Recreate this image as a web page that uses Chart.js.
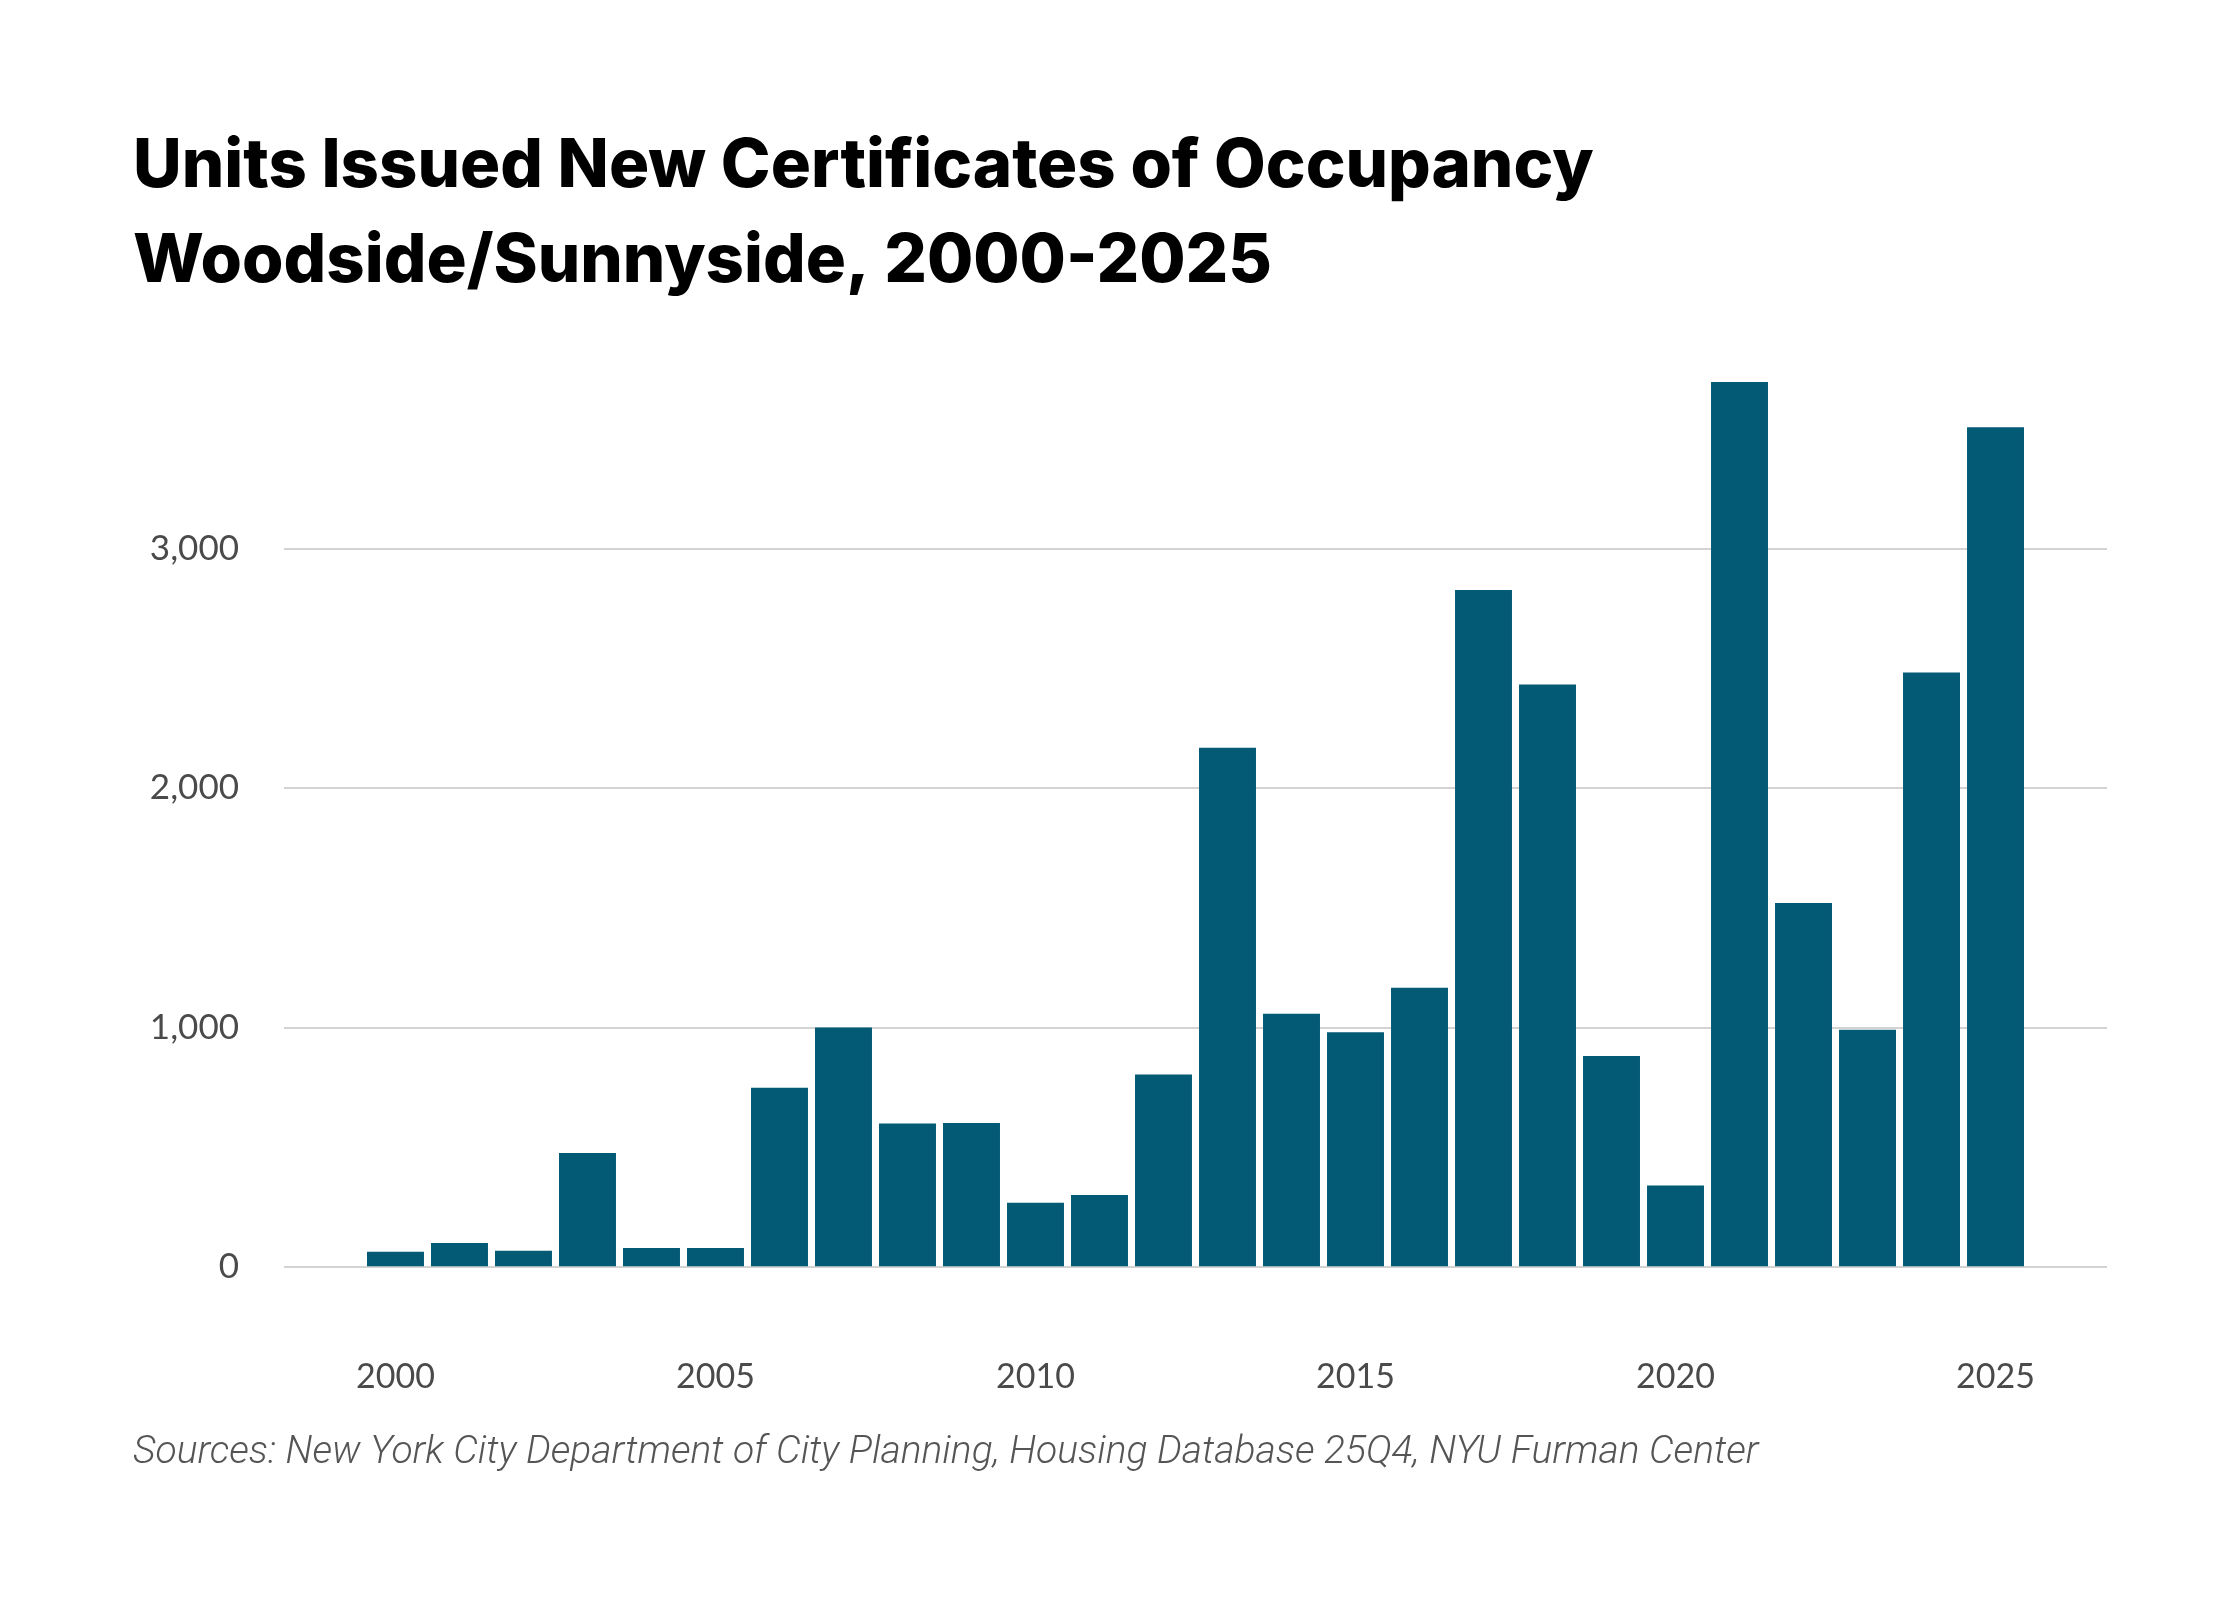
<!DOCTYPE html>
<html>
<head>
<meta charset="utf-8">
<script src="https://cdn.jsdelivr.net/npm/chart.js@4.4.1/dist/chart.umd.min.js"></script>
<style>
  html, body { margin: 0; padding: 0; background: #ffffff; }
  #wrap { width: 2240px; height: 1600px; }
</style>
</head>
<body>
<div id="wrap"><canvas id="coChart" width="2240" height="1600"></canvas></div>
<script>
const years = [2000, 2001, 2002, 2003, 2004, 2005, 2006, 2007, 2008, 2009, 2010, 2011, 2012,
               2013, 2014, 2015, 2016, 2017, 2018, 2019, 2020, 2021, 2022, 2023, 2024, 2025];
const units = [64, 101, 69, 477, 80, 80, 749, 1001, 600, 602, 269, 301, 805,
               2169, 1058, 981, 1167, 2827, 2433, 882, 341, 3696, 1521, 991, 2483, 3507];
const yTicks = [0, 1000, 2000, 3000];
const xTicks = [2000, 2005, 2010, 2015, 2020, 2025];
const titleLines = ['Units Issued New Certificates of Occupancy', 'Woodside/Sunnyside, 2000-2025'];
const sourceText = 'Sources: New York City Department of City Planning, Housing Database 25Q4, NYU Furman Center';

document.addEventListener('DOMContentLoaded', function() {
    const ctx = document.getElementById('coChart').getContext('2d');
    new Chart(ctx, {
        type: 'bar',
        data: {
            datasets: [{
                label: 'Units',
                data: years.map((yr, i) => ({ x: yr, y: units[i] })),
                backgroundColor: '#035a74',
                borderWidth: 0,
                barPercentage: 0.89,
                categoryPercentage: 1.0
            }]
        },
        options: {
            responsive: false,
            devicePixelRatio: 1,
            animation: false,
            layout: {
                padding: { left: 133, right: 133, top: 0, bottom: 91 }
            },
            plugins: {
                legend: { display: false },
                tooltip: { enabled: false },
                title: {
                    display: true,
                    text: titleLines,
                    align: 'start',
                    color: '#000000',
                    font: { family: 'Inter', size: 67, weight: '800', lineHeight: 1.41 },
                    padding: { top: 120, bottom: 72 }
                },
                subtitle: {
                    display: true,
                    position: 'bottom',
                    text: sourceText,
                    align: 'start',
                    color: '#555555',
                    font: { family: 'Roboto', size: 39, weight: '300', style: 'italic', lineHeight: 1.2 },
                    padding: { top: 0, bottom: 32 }
                }
            },
            scales: {
                x: {
                    type: 'linear',
                    min: 1998.258,
                    max: 2026.742,
                    offset: false,
                    grid: { display: false, drawTicks: false },
                    border: { display: false },
                    afterBuildTicks: function(axis) {
                        axis.ticks = xTicks.map(v => ({ value: v }));
                    },
                    afterFit: function(axis) {
                        axis.height = 163;
                    },
                    ticks: {
                        padding: 89,
                        color: '#4a4a4a',
                        font: { family: 'Lato', size: 34, lineHeight: 1.2 },
                        maxRotation: 0,
                        callback: function(value) { return String(value); }
                    }
                },
                y: {
                    min: 0,
                    max: 3700,
                    grid: { color: '#d3d3d3', lineWidth: 2, drawTicks: false },
                    border: { display: false },
                    afterBuildTicks: function(axis) {
                        axis.ticks = yTicks.map(v => ({ value: v }));
                    },
                    afterFit: function(axis) {
                        axis.width = 151;
                    },
                    ticks: {
                        padding: 45,
                        color: '#4a4a4a',
                        font: { family: 'Lato', size: 35 },
                        callback: function(value) { return value.toLocaleString('en-US'); }
                    }
                }
            }
        }
    });
});
</script>
</body>
</html>
